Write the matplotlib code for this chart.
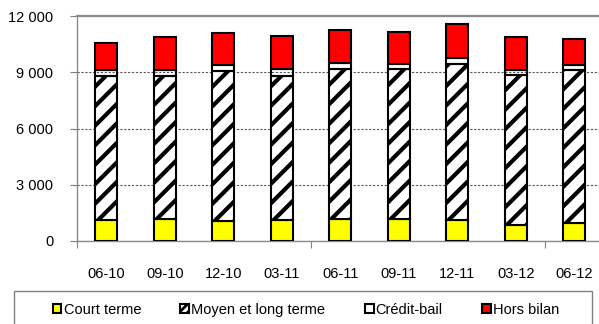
import matplotlib
matplotlib.use("Agg")
import matplotlib.pyplot as plt
from matplotlib.patches import Patch, Rectangle
from matplotlib.lines import Line2D
from matplotlib.transforms import IdentityTransform
from matplotlib.ticker import FuncFormatter
import numpy as np

plt.rcParams['font.family'] = ['Liberation Sans', 'DejaVu Sans']
plt.rcParams['hatch.linewidth'] = 2.0

periods = ["06-10", "09-10", "12-10", "03-11", "06-11", "09-11", "12-11", "03-12", "06-12"]
court_terme = [1100, 1150, 1080, 1100, 1200, 1150, 1130, 880, 950]
moyen_long_terme = [7700, 7650, 7980, 7700, 8000, 8000, 8290, 7970, 8150]
credit_bail = [300, 320, 320, 350, 300, 290, 320, 270, 280]
hors_bilan = [1450, 1780, 1700, 1780, 1750, 1720, 1820, 1780, 1410]

series = [
    ("Court terme", court_terme, "#FFFF00", False),
    ("Moyen et long terme", moyen_long_terme, "white", True),
    ("Crédit-bail", credit_bail, "none", False),
    ("Hors bilan", hors_bilan, "#FF0000", False),
]

fig = plt.figure(figsize=(5.99, 3.24), dpi=100)
ax = fig.add_axes([77 / 599, 1 - 241 / 324, 526.5 / 599, 225 / 324])

x = np.arange(len(periods))
bottom = np.zeros(len(periods))
handles = []
striped_bars = []
for name, vals, color, striped in series:
    vals = np.array(vals, dtype=float)
    bars = ax.bar(x, vals, width=0.38, bottom=bottom, facecolor=color,
                  edgecolor="black", linewidth=1.5, zorder=3)
    if striped:
        striped_bars.extend(bars.patches)
    bottom += vals
    handles.append(Patch(facecolor=color if color != "none" else "white",
                         edgecolor="black", linewidth=1.5,
                         hatch="////" if striped else None, label=name))

ax.set_xlim(-0.5, len(periods) - 0.5)
ax.set_ylim(0, 12000)
ax.set_yticks([0, 3000, 6000, 9000, 12000])
ax.yaxis.set_major_formatter(FuncFormatter(lambda v, p: f"{int(v):,}".replace(",", " ")))
ax.yaxis.grid(True, linestyle=(0, (2, 1.5)), color="#555555", linewidth=0.8, zorder=0)
ax.set_axisbelow(True)

# Tick marks on category boundaries, labels centred under bars
ax.set_xticks([-0.5, 3.5, 7.5])
ax.set_xticklabels([])
ax.set_xticks(x, minor=True)
ax.set_xticklabels(periods, minor=True)
ax.tick_params(axis="x", which="major", length=5, width=0.8, color="#808080", direction="out")
ax.tick_params(axis="x", which="minor", length=0, pad=18.5, labelsize=10.5)
ax.tick_params(axis="y", length=5, width=0.8, color="#808080", direction="out", pad=12, labelsize=10.5)

for side in ["left", "bottom", "top", "right"]:
    ax.spines[side].set_color("#8a8a8a")
    ax.spines[side].set_linewidth(1.0)
ax.spines["top"].set_linewidth(1.6)

# Wide diagonal stripes for the medium/long-term segment, clipped to each bar
fig.canvas.draw()
period = 19.5
for bar in striped_bars:
    bb = bar.get_window_extent()
    for c in np.arange(bb.y0 - bb.x1 - period, bb.y1 - bb.x0 + period, period):
        ln = Line2D([bb.x0 - 5, bb.x1 + 5], [bb.x0 - 5 + c, bb.x1 + 5 + c],
                    transform=IdentityTransform(), color="black",
                    linewidth=3.0, solid_capstyle="butt", zorder=3.5)
        ln.set_clip_path(bar)
        fig.add_artist(ln)

# Legend box
fig.patches.append(Rectangle((14.3 / 599, -0.1), 577.4 / 599, 0.1 + 1 - 291 / 324,
                             transform=fig.transFigure, fill=False,
                             edgecolor="#808080", linewidth=1.0))
fig.legend(handles=handles, loc="center", bbox_to_anchor=(306 / 599, 1 - 310 / 324),
           ncol=4, frameon=False, fontsize=10.5, handlelength=0.6, handleheight=0.6,
           handletextpad=0.15, columnspacing=2.7, borderpad=0)

fig.savefig("out.png", dpi=100)
